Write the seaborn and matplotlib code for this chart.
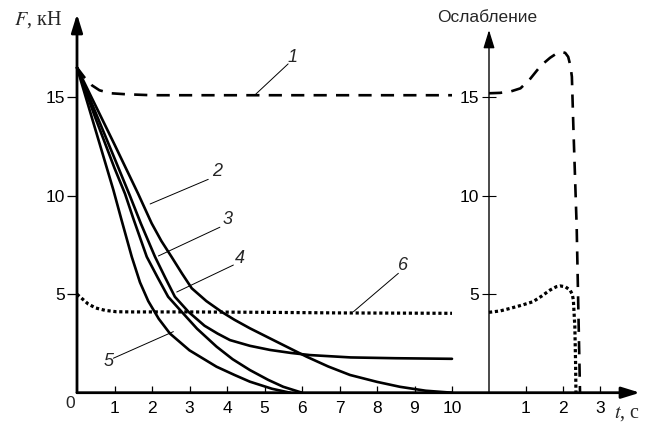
import matplotlib
matplotlib.use("Agg")
import matplotlib.pyplot as plt
import seaborn as sns

# --- data (t in s, F in kN) ---
# left panel
t_1 = [0, 0.2, 0.4, 0.6, 0.9, 1.3, 2.0, 4.0, 6.0, 8.0, 10.0]
f_1 = [16.5, 16.0, 15.6, 15.35, 15.2, 15.15, 15.1, 15.1, 15.1, 15.1, 15.1]

t_2 = [0, 0.5, 1.0, 1.63, 1.99, 2.25, 2.52, 2.8, 3.06, 3.45, 3.86, 4.2, 4.61,
       5.3, 6.12, 6.7, 7.28, 8.0, 8.61, 9.3, 10.0]
f_2 = [16.5, 14.55, 12.6, 10.1, 8.6, 7.7, 6.9, 6.05, 5.3, 4.65, 4.1, 3.7, 3.27,
       2.61, 1.83, 1.33, 0.9, 0.55, 0.3, 0.1, 0.0]

t_3 = [0, 0.5, 1.0, 1.41, 1.7, 2.08, 2.35, 2.61, 2.97, 3.4, 3.75, 4.08, 4.61,
       5.15, 5.7, 6.21, 7.3, 8.5, 10.0]
f_3 = [16.5, 14.2, 11.9, 10.0, 8.6, 6.9, 5.85, 4.87, 4.11, 3.4, 3.0, 2.67, 2.38,
       2.17, 2.02, 1.91, 1.79, 1.75, 1.72]

t_4 = [0, 0.5, 1.0, 1.28, 1.5, 1.86, 2.15, 2.43, 2.79, 3.2, 3.72, 4.15, 4.61,
       5.1, 5.5, 6.0]
f_4 = [16.5, 13.9, 11.4, 10.1, 8.85, 6.9, 5.85, 4.87, 4.11, 3.25, 2.34, 1.7, 1.15,
       0.65, 0.3, 0.0]

t_5 = [0, 0.5, 0.97, 1.19, 1.46, 1.68, 1.9, 2.18, 2.48, 3.0, 3.72, 4.2, 4.61,
       5.2, 5.68]
f_5 = [16.5, 13.3, 10.29, 8.75, 6.9, 5.6, 4.65, 3.75, 3.0, 2.15, 1.32, 0.9, 0.56,
       0.2, 0.0]

t_6 = [0, 0.15, 0.3, 0.5, 0.75, 1.05, 1.5, 3.0, 5.0, 7.0, 10.0]
f_6 = [5.0, 4.75, 4.5, 4.3, 4.18, 4.11, 4.1, 4.1, 4.08, 4.05, 4.03]

# right panel ("Ослабление")
t_1r = [0, 0.3, 0.6, 0.85, 1.1, 1.4, 1.65, 1.85, 1.96, 2.06, 2.14, 2.2, 2.24,
        2.28, 2.37, 2.46]
f_1r = [15.2, 15.22, 15.3, 15.45, 15.9, 16.6, 17.0, 17.25, 17.3, 17.25, 17.05,
        16.6, 16.04, 13.5, 8.4, 0.0]

t_6r = [0, 0.3, 0.57, 0.9, 1.19, 1.42, 1.65, 1.82, 1.92, 2.06, 2.19, 2.25, 2.28,
        2.32, 2.34, 2.35]
f_6r = [4.08, 4.15, 4.28, 4.45, 4.62, 4.9, 5.21, 5.38, 5.42, 5.38, 5.21, 5.0,
        4.7, 3.35, 1.5, 0.0]

x_ticks = [1, 2, 3, 4, 5, 6, 7, 8, 9, 10]
x_ticks_r = [1, 2, 3]
y_ticks = [5, 10, 15]

sns.set_theme(style="white")
plt.rcParams["font.family"] = ["Liberation Sans", "DejaVu Sans"]
plt.rcParams["mathtext.fontset"] = "stix"

fig = plt.figure(figsize=(6.46, 4.23), dpi=100)
W, H = 646, 423
x0, y0 = 77, 392.7          # origin in pixels
sx, sy = 37.5, 19.7         # px per unit
rx0, rsx = 489, 37.0        # right panel origin / scale

top_px = 10
ymax = (y0 - top_px) / sy
ax = fig.add_axes([x0 / W, (H - y0) / H, (640 - x0) / W, (y0 - top_px) / H])
ax.set_xlim(0, (640 - x0) / sx)
ax.set_ylim(0, ymax)

axr = fig.add_axes([rx0 / W, (H - y0) / H, (640 - rx0) / W, (y0 - top_px) / H])
axr.set_xlim(0, (640 - rx0) / rsx)
axr.set_ylim(0, ymax)
axr.patch.set_alpha(0)

for a in (ax, axr):
    for s in a.spines.values():
        s.set_visible(False)

lw = 1.9
dash = (0, (5, 3.5))
dot = (0, (1.0, 0.85))
kw = dict(color="black", sort=False, estimator=None, clip_on=False)

sns.lineplot(x=t_1, y=f_1, ax=ax, lw=lw, linestyle=dash, **kw)
for tt, ff in [(t_2, f_2), (t_3, f_3), (t_4, f_4), (t_5, f_5)]:
    sns.lineplot(x=tt, y=ff, ax=ax, lw=lw, **kw)
sns.lineplot(x=t_6, y=f_6, ax=ax, lw=2.3, linestyle=dot, **kw)

sns.lineplot(x=t_1r, y=f_1r, ax=axr, lw=lw, linestyle=dash, **kw)
sns.lineplot(x=t_6r, y=f_6r, ax=axr, lw=2.3, linestyle=dot, **kw)

# axis lines with arrows
arr = dict(arrowstyle="-|>,head_length=0.55,head_width=0.17", color="black",
           shrinkA=0, shrinkB=0, mutation_scale=20)
ax.annotate("", xy=(0, (y0 - 14) / sy), xytext=(0, 0),
            arrowprops=dict(arr, lw=2.0), annotation_clip=False)
ax.annotate("", xy=((640 - x0) / sx, 0), xytext=(0, 0),
            arrowprops=dict(arr, lw=2.0), annotation_clip=False)
axr.annotate("", xy=(0, (y0 - 30) / sy), xytext=(0, 0),
             arrowprops=dict(arr, lw=1.0), annotation_clip=False)

# ticks
fs = 12.5
ax.set_xticks(x_ticks)
ax.set_xticklabels([str(v) for v in x_ticks])
ax.set_yticks(y_ticks)
ax.set_yticklabels([str(v) for v in y_ticks])
ax.tick_params(axis="x", direction="in", length=5, width=0.9, pad=6,
               labelsize=fs, bottom=True, colors="black")
ax.tick_params(axis="y", direction="out", length=7, width=0.9, pad=1.5,
               labelsize=fs, left=True, colors="black")
axr.set_xticks(x_ticks_r)
axr.set_xticklabels([str(v) for v in x_ticks_r])
axr.set_yticks(y_ticks)
axr.set_yticklabels([str(v) for v in y_ticks])
axr.tick_params(axis="x", direction="in", length=5, width=0.9, pad=6,
                labelsize=fs, bottom=True, colors="black")
axr.tick_params(axis="y", direction="inout", length=10, width=0.8, pad=2,
                labelsize=fs, left=True, colors="black")
for a in (ax, axr):
    a.set_xlabel("")
    a.set_ylabel("")
    a.grid(False)

# curve numbers with leader lines: (label, text xy, line start, line end)
leaders = [
    ("1", (5.76, 17.03), (5.63, 16.69), (4.77, 15.16)),
    ("2", (3.73, 11.22), (3.50, 10.83), (1.95, 9.58)),
    ("3", (4.01, 8.77), (3.81, 8.40), (2.17, 6.94)),
    ("4", (4.35, 6.82), (4.17, 6.48), (2.66, 5.11)),
    ("5", (0.83, 1.57), (0.97, 1.75), (2.57, 3.10)),
    ("6", (8.70, 6.48), (8.57, 6.06), (7.37, 4.11)),
]
for lab, txy, p0, p1 in leaders:
    ax.plot([p0[0], p1[0]], [p0[1], p1[1]], color="black", lw=0.7)
    ax.text(txy[0], txy[1], lab, fontsize=13, style="italic",
            ha="center", va="center")

# labels
fig.text(70 / W, 1 - 403 / H, "0", fontsize=fs, ha="center", va="center")
fig.text(14 / W, 1 - 20 / H, "$F$, кН", fontsize=14.5, ha="left", va="center",
         family="Liberation Serif")
fig.text(614 / W, 1 - 413 / H, "$t$, с", fontsize=14.5, ha="left", va="center",
         family="Liberation Serif")
fig.text(487 / W, 1 - 18 / H, "Ослабление", fontsize=12.5, ha="center",
         va="center")

fig.savefig("out.png", dpi=100)
